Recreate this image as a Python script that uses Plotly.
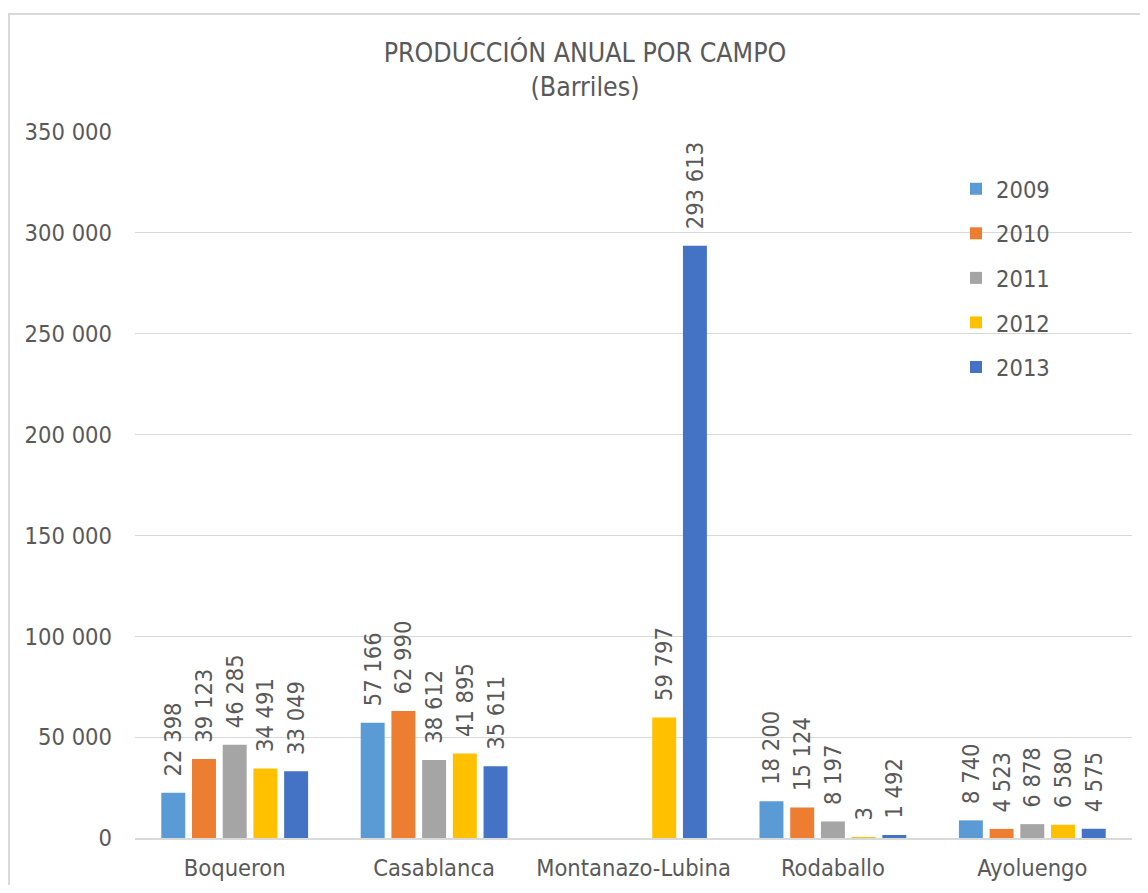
import plotly.graph_objects as go

categories = ["Boqueron", "Casablanca", "Montanazo-Lubina", "Rodaballo", "Ayoluengo"]
years = ["2009", "2010", "2011", "2012", "2013"]
values = {
    "2009": [22398, 57166, None, 18200, 8740],
    "2010": [39123, 62990, None, 15124, 4523],
    "2011": [46285, 38612, None, 8197, 6878],
    "2012": [34491, 41895, 59797, 3, 6580],
    "2013": [33049, 35611, 293613, 1492, 4575],
}
colors = ["#5B9BD5", "#ED7D31", "#A5A5A5", "#FFC000", "#4472C4"]
y_ticks = [0, 50000, 100000, 150000, 200000, 250000, 300000, 350000]

FONT = "DejaVu Sans Condensed, DejaVu Sans, sans-serif"
TXT = "#595959"

OFF = 8  # page body margin (each side)
PW, PH = 1148, 893
W, H = PW - 2 * OFF, PH - 2 * OFF
# plot area in page pixels: x 135..1132, y 132..838
PX0, PX1, PY0, PY1 = 135, 1132, 132, 838
L = PX0 - OFF
R = W - (PX1 - OFF)
T = PY0 - OFF
B = H - (PY1 - OFF)
pw, ph = W - L - R, H - T - B

fig = go.Figure()
for yr, col in zip(years, colors):
    fig.add_trace(go.Bar(
        name=yr, x=categories, y=values[yr],
        marker=dict(color=col, line=dict(width=0)),
        texttemplate="\u00a0\u00a0%{y:,}",
        textposition="outside", textangle=-90, constraintext="none",
        textfont=dict(family=FONT, size=23.5, color=TXT),
        cliponaxis=False, legendgroup=yr,
    ))

def px_x(p):
    return (p - PX0) / pw

def px_y(p):
    return (PY1 - p) / ph

fig.update_layout(
    width=W, height=H,
    margin=dict(l=L, r=R, t=T, b=B, autoexpand=False),
    paper_bgcolor="white", plot_bgcolor="white",
    separators=", ",
    barmode="group", bargap=0.23, bargroupgap=0.22,
    font=dict(family=FONT, size=23.5, color=TXT),
    title=dict(
        text="PRODUCCIÓN ANUAL POR CAMPO<br>(Barriles)",
        x=(585 - OFF) / W, xanchor="center", xref="container",
        y=1 - 54 / H, yanchor="top",
        font=dict(family=FONT, size=26.5, color=TXT),
    ),
    legend=dict(
        x=px_x(956), xanchor="left", y=px_y(167), yanchor="top",
        font=dict(family=FONT, size=23.5, color=TXT),
        traceorder="grouped", tracegroupgap=11,
        bgcolor="rgba(0,0,0,0)",
    ),
    xaxis=dict(
        automargin=False,
        showgrid=False, showline=True, linecolor="#D9D9D9", linewidth=2,
        ticks="", ticklabelstandoff=8,
        tickfont=dict(family=FONT, size=23.5, color=TXT),
    ),
    yaxis=dict(
        automargin=False,
        range=[0, 350000], tickvals=y_ticks, tickformat=",",
        showgrid=True, gridcolor="#D9D9D9", gridwidth=1,
        zeroline=False, showline=False, ticks="",
        ticklabelstandoff=22,
        tickfont=dict(family=FONT, size=23.5, color=TXT),
    ),
    shapes=[dict(
        type="rect", xref="paper", yref="paper",
        x0=px_x(9), x1=px_x(1180), y0=px_y(920), y1=px_y(14),
        line=dict(color="#D9D9D9", width=2), fillcolor="rgba(0,0,0,0)",
        layer="below",
    )],
)

fig.write_html("out.html")
